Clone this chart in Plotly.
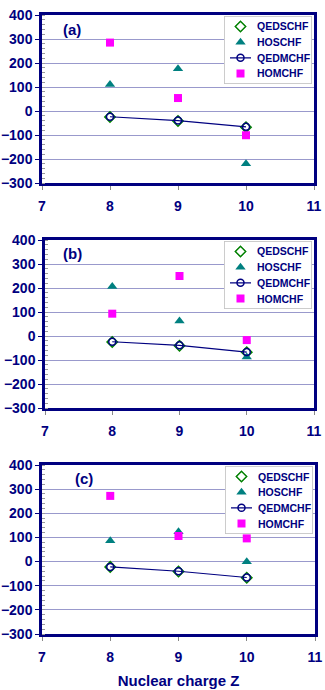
import plotly.graph_objects as go

W, H = 325, 690
Z = [8, 9, 10]
panels = ["(a)", "(b)", "(c)"]
series_names = ["QEDSCHF", "HOSCHF", "QEDMCHF", "HOMCHF"]

qedschf_a = [-25, -42, -68]
hoschf_a = [110, 176, -220]
qedmchf_a = [-24, -40, -66]
homchf_a = [285, 54, -101]

qedschf_b = [-25, -41, -68]
hoschf_b = [206, 62, -88]
qedmchf_b = [-24, -39, -67]
homchf_b = [93, 250, -17]

qedschf_c = [-22, -41, -67]
hoschf_c = [86, 124, -1]
qedmchf_c = [-22, -40, -66]
homchf_c = [272, 106, 96]

data = [
    (qedschf_a, hoschf_a, qedmchf_a, homchf_a),
    (qedschf_b, hoschf_b, qedmchf_b, homchf_b),
    (qedschf_c, hoschf_c, qedmchf_c, homchf_c),
]

y_ticks = [400, 300, 200, 100, 0, -100, -200, -300]
x_ticks = [7, 8, 9, 10, 11]

NAVY = "#000080"
FONT = "Arial, Liberation Sans, sans-serif"

styles = [
    dict(mode="markers", marker=dict(symbol="diamond-open", size=8, color="#008000", line=dict(width=1.5))),
    dict(mode="markers", marker=dict(symbol="triangle-up", size=9, color="#008080")),
    dict(mode="lines+markers", line=dict(color=NAVY, width=1.2),
         marker=dict(symbol="circle-open", size=7, color=NAVY, line=dict(width=1.5))),
    dict(mode="markers", marker=dict(symbol="square", size=8, color="#FF00FF")),
]

# pixel boxes of plot areas (left, right, top, bottom)
boxes = [(42, 314, 15, 183), (45, 314, 240, 408), (42, 315, 465, 634)]
label_pos = [(72, 29), (72, 254), (84, 479)]
LEG_W, LEG_H = 88, 67
row_y = [10, 25.7, 41.3, 57]

fig = go.Figure()
for i, series in enumerate(data):
    sfx = "" if i == 0 else str(i + 1)
    xa, ya = "x" + sfx, "y" + sfx
    for name, vals, st in zip(series_names, series, styles):
        fig.add_trace(go.Scatter(x=Z, y=vals, name=name, xaxis=xa, yaxis=ya,
                                 showlegend=False, **st))

    l, r, t, b = boxes[i]
    fig.layout["xaxis" + sfx] = dict(
        domain=[l / W, r / W], anchor=ya, range=[7, 11], tickvals=x_ticks, showgrid=False,
        zeroline=False, showline=True, linecolor=NAVY, linewidth=2.5, mirror=True,
        ticks="outside", ticklen=4, tickcolor="#888888", tickwidth=1, ticklabelstandoff=4,
        tickfont=dict(family=FONT, size=14, color=NAVY, weight="bold"),
        title=dict(text="Nuclear charge Z" if i == 2 else "",
                   font=dict(family=FONT, size=15, color=NAVY, weight="bold"), standoff=12),
        automargin=False, fixedrange=True,
    )
    fig.layout["yaxis" + sfx] = dict(
        domain=[1 - b / H, 1 - t / H], anchor=xa, range=[-300, 400], tickvals=y_ticks,
        showgrid=True, gridcolor="#9999CC", gridwidth=1, zeroline=False,
        showline=True, linecolor=NAVY, linewidth=2.5, mirror=True,
        ticks="outside", ticklen=4, tickcolor=NAVY, tickwidth=1,
        minor=dict(dtick=20, ticks="inside", ticklen=3, tickcolor="#999999", showgrid=False),
        tickfont=dict(family=FONT, size=14, color=NAVY, weight="bold"),
        automargin=False, fixedrange=True,
    )

    # manual legend drawn on a hidden pixel-scaled subplot
    lsfx = str(i + 4)
    lxa, lya = "x" + lsfx, "y" + lsfx
    ll, lt = r - 90, t + 1.5
    fig.layout["xaxis" + lsfx] = dict(domain=[ll / W, (ll + LEG_W) / W], range=[0, LEG_W],
                                      visible=False, anchor=lya, fixedrange=True)
    fig.layout["yaxis" + lsfx] = dict(domain=[1 - (lt + LEG_H) / H, 1 - lt / H], range=[LEG_H, 0],
                                      visible=False, anchor=lxa, fixedrange=True)
    fig.add_shape(type="rect", xref=lxa, yref=lya, x0=0, x1=LEG_W, y0=0, y1=LEG_H,
                  fillcolor="white", line=dict(color="#999999", width=1), layer="between")
    for k, (name, st) in enumerate(zip(series_names, styles)):
        yy = row_y[k]
        if st["mode"] == "lines+markers":
            fig.add_trace(go.Scatter(x=[6, 27], y=[yy, yy], mode="lines", line=st["line"],
                                     xaxis=lxa, yaxis=lya, showlegend=False, hoverinfo="skip"))
        fig.add_trace(go.Scatter(x=[16.5], y=[yy], mode="markers", marker=st["marker"],
                                 xaxis=lxa, yaxis=lya, showlegend=False, hoverinfo="skip"))
        fig.add_annotation(x=31, y=yy, xref=lxa, yref=lya, text=name, showarrow=False,
                           xanchor="left", yanchor="middle",
                           font=dict(family=FONT, size=10.5, color=NAVY, weight="bold"))

    lx, ly = label_pos[i]
    fig.add_annotation(x=lx / W, y=1 - ly / H, xref="paper", yref="paper",
                       text=panels[i], showarrow=False, xanchor="center", yanchor="middle",
                       font=dict(family=FONT, size=15, color=NAVY, weight="bold"))

fig.update_layout(
    width=W, height=H, margin=dict(l=0, r=0, t=0, b=0),
    paper_bgcolor="white", plot_bgcolor="white", showlegend=False,
)

fig.write_html("out.html", post_script="document.body.style.margin='0';",
               config={"displayModeBar": False})
